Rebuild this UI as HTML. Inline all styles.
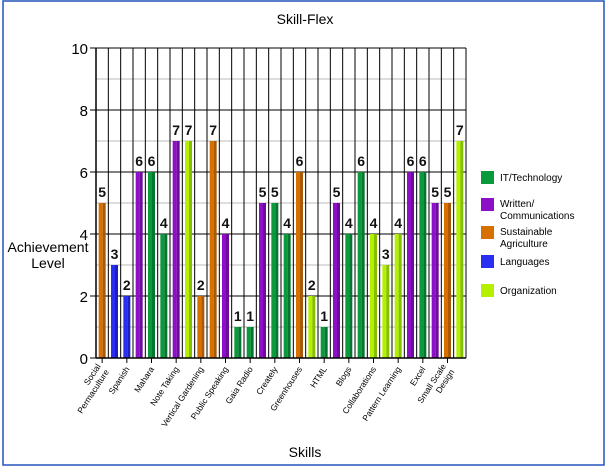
<!DOCTYPE html>
<html><head><meta charset="utf-8"><style>
body{margin:0;background:#fff;font-family:"Liberation Sans",Arial,sans-serif}
svg text{font-family:"Liberation Sans",Arial,sans-serif}
</style></head><body>
<svg id="chart" width="605" height="466" xmlns="http://www.w3.org/2000/svg">
<rect x="3" y="1" width="601" height="464" fill="#fff" stroke="#2255bb" stroke-width="1.5"/>
<text x="305" y="24" font-size="14" text-anchor="middle">Skill-Flex</text>
<text x="48" y="252" font-size="14" text-anchor="middle"><tspan x="48">Achievement</tspan><tspan x="48" dy="16">Level</tspan></text>
<text x="305" y="457" font-size="14" text-anchor="middle">Skills</text>
<g id="grid"></g><g id="bars"></g><g id="axes"></g><g id="legend"></g>
</svg>
<script>
const categories=["Social Permaculture","Permaculture 2","Spanish","Spanish 2","Mahara","Mahara 2","Note Taking","Note Taking 2","Vertical Gardening","Vertical Gardening 2","Public Speaking","Public Speaking 2","Gaia Radio","Gaia Radio 2","Creately","Creately 2","Greenhouses","Greenhouses 2","HTML","HTML 2","Blogs","Blogs 2","Collaborations","Collaborations 2","Pattern Learning","Pattern Learning 2","Excel","Excel 2","Small Scale Design","Small Scale Design 2"];
const values=[5,3,2,6,6,4,7,7,2,7,4,1,1,5,5,4,6,2,1,5,4,6,4,3,4,6,6,5,5,7];
const groups=["ag","lang","lang","wr","it","it","wr","org","ag","ag","wr","it","it","wr","it","it","ag","org","it","wr","it","it","org","org","org","wr","it","wr","ag","org"];
const tickLabels=[["Social","Permaculture"],["Spanish"],["Mahara"],["Note Taking"],["Vertical Gardening"],["Public Speaking"],["Gaia Radio"],["Creately"],["Greenhouses"],["HTML"],["Blogs"],["Collaborations"],["Pattern Learning"],["Excel"],["Small Scale","Design"]];
const yTicks=[0,2,4,6,8,10];
const legendKeys=["it","wr","ag","lang","org"];
const legendNames=[["IT/Technology"],["Written/","Communications"],["Sustainable","Agriculture"],["Languages"],["Organization"]];
const colors={it:["#0a9a3c","#067530"],wr:["#8e0fc8","#6e0a9c"],ag:["#d87000","#a85a08"],lang:["#2a2ef0","#1c20c0"],org:["#b4f000","#84c000"]};
const NS="http://www.w3.org/2000/svg";
const X0=96,X1=466,Y0=358,Y1=48,YMAX=10;
const cw=(X1-X0)/values.length;
const y=v=>Y0-(v/YMAX)*(Y0-Y1);
const x=i=>X0+i*cw;
function mk(tag,attrs,parent){const e=document.createElementNS(NS,tag);for(const k in attrs)e.setAttribute(k,attrs[k]);parent.appendChild(e);return e;}
const grid=document.getElementById('grid'),bars=document.getElementById('bars'),axes=document.getElementById('axes'),legend=document.getElementById('legend');
for(let v=1;v<=YMAX;v++){const l=mk('line',{x1:X0,x2:X1,y1:y(v),y2:y(v),stroke:v%2?'#bbb':'#000','stroke-width':1},grid);

}
for(let i=1;i<=values.length;i++){const l=mk('line',{x1:x(i),x2:x(i),y1:Y1,y2:Y0,stroke:'#000','stroke-width':1},grid);

}
values.forEach((v,i)=>{const c=colors[groups[i]];const bx=x(i)+cw/2-3.5;
const g=mk('g',{},bars);


mk('rect',{x:bx,y:y(v),width:4,height:Y0-y(v),fill:c[0]},g);
mk('rect',{x:bx+4,y:y(v),width:3,height:Y0-y(v),fill:c[1]},g);
const t=mk('text',{x:x(i)+cw/2,y:y(v)-6,'font-size':14,'font-weight':'bold','text-anchor':'middle',fill:'#111'},bars);t.textContent=v;

});
let a=mk('line',{x1:X0,x2:X0,y1:Y1,y2:Y0,stroke:'#000','stroke-width':1.5},axes);


a=mk('line',{x1:X0,x2:X1,y1:Y0,y2:Y0,stroke:'#000','stroke-width':1.5},axes);


yTicks.forEach(v=>{mk('line',{x1:X0-6,x2:X0,y1:y(v),y2:y(v),stroke:'#000'},axes);
const t=mk('text',{x:X0-8,y:y(v)+6,'font-size':15,'text-anchor':'end'},axes);t.textContent=v;

});
tickLabels.forEach((lines,k)=>{const i=k*2;const cx=x(i)+cw/2;
mk('line',{x1:cx,x2:cx,y1:Y0,y2:Y0+5,stroke:'#000'},axes);
const t=mk('text',{'font-size':8.5,'text-anchor':'end',transform:`translate(${cx+3},${Y0+11}) rotate(-57)`},axes);


lines.forEach((ln,j)=>{const s=mk('tspan',{x:0,dy:j?10:0},t);s.textContent=ln;});
if(lines.length>1)t.setAttribute('transform',`translate(${cx+3},${Y0+11}) rotate(-57) translate(0,-5)`);});
const ly=[171,198,226,255,284];
legendKeys.forEach((k,i)=>{const g=mk('g',{},legend);


mk('rect',{x:481,y:ly[i],width:13,height:13,fill:colors[k][0]},g);
const t=mk('text',{x:500,y:ly[i]+10,'font-size':10},g);
legendNames[i].forEach((ln,j)=>{const s=mk('tspan',{x:500,dy:j?12:0},t);s.textContent=ln;});
if(legendNames[i].length>1)t.setAttribute('y',ly[i]+9);});
</script>
</body></html>
